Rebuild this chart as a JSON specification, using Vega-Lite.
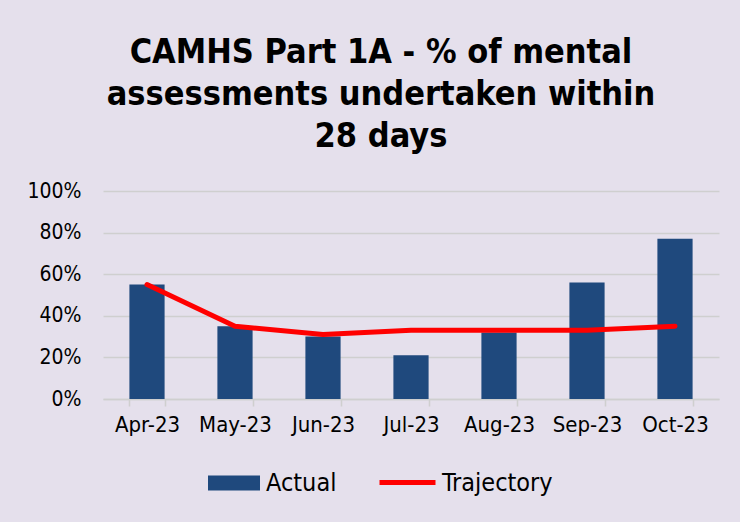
{
  "$schema": "https://vega.github.io/schema/vega-lite/v6.json",
  "width": 616,
  "height": 208,
  "autosize": {"type": "none"},
  "padding": {"left": 103, "top": 191, "right": 21, "bottom": 123},
  "background": "#E5E0EC",
  "title": {
    "text": ["CAMHS Part 1A - % of mental", "assessments undertaken within", "28 days"],
    "font": "DejaVu Sans Condensed, DejaVu Sans",
    "fontSize": 34,
    "fontWeight": "bold",
    "color": "#000000",
    "lineHeight": 42,
    "anchor": "middle",
    "dx": -30,
    "offset": 26
  },
  "data": {
    "values": [
      {"month": "Apr-23", "series": "Actual", "value": 0.55},
      {"month": "May-23", "series": "Actual", "value": 0.35},
      {"month": "Jun-23", "series": "Actual", "value": 0.30},
      {"month": "Jul-23", "series": "Actual", "value": 0.21},
      {"month": "Aug-23", "series": "Actual", "value": 0.32},
      {"month": "Sep-23", "series": "Actual", "value": 0.56},
      {"month": "Oct-23", "series": "Actual", "value": 0.77},
      {"month": "Apr-23", "series": "Trajectory", "value": 0.55},
      {"month": "May-23", "series": "Trajectory", "value": 0.35},
      {"month": "Jun-23", "series": "Trajectory", "value": 0.31},
      {"month": "Jul-23", "series": "Trajectory", "value": 0.33},
      {"month": "Aug-23", "series": "Trajectory", "value": 0.33},
      {"month": "Sep-23", "series": "Trajectory", "value": 0.33},
      {"month": "Oct-23", "series": "Trajectory", "value": 0.35}
    ]
  },
  "encoding": {
    "x": {
      "field": "month",
      "type": "ordinal",
      "sort": null,
      "scale": {"paddingInner": 0.6, "paddingOuter": 0.3},
      "axis": {
        "title": null,
        "labelAngle": 0,
        "labelFont": "DejaVu Sans Condensed, DejaVu Sans",
        "labelFontSize": 22,
        "labelColor": "#000000",
        "labelPadding": 8,
        "domainColor": "#CFCFCF",
        "domainWidth": 1.5,
        "tickColor": "#CFCFCF",
        "tickWidth": 1.5,
        "tickSize": 7,
        "tickBand": "extent"
      }
    },
    "y": {
      "field": "value",
      "type": "quantitative",
      "scale": {"domain": [0, 1]},
      "axis": {
        "title": null,
        "values": [0, 0.2, 0.4, 0.6, 0.8, 1],
        "format": ".0%",
        "grid": true,
        "gridColor": "#CFCFCF",
        "gridWidth": 1.5,
        "domain": false,
        "ticks": false,
        "labelPadding": 22,
        "labelFont": "DejaVu Sans Condensed, DejaVu Sans",
        "labelFontSize": 21,
        "labelColor": "#000000"
      }
    }
  },
  "layer": [
    {
      "transform": [{"filter": "datum.series === 'Actual'"}],
      "mark": {"type": "bar"},
      "encoding": {
        "fill": {
          "field": "series",
          "type": "nominal",
          "scale": {"domain": ["Actual"], "range": ["#1F497D"]},
          "legend": {
            "orient": "none",
            "legendX": 105,
            "legendY": 266,
            "title": null,
            "padding": 0,
            "symbolType": "M-1,-0.29L1,-0.29L1,0.29L-1,0.29Z",
            "symbolSize": 2704,
            "symbolStrokeWidth": 0,
            "labelOffset": 6,
            "labelFont": "DejaVu Sans Condensed, DejaVu Sans",
            "labelFontSize": 25,
            "labelColor": "#000000"
          }
        }
      }
    },
    {
      "transform": [{"filter": "datum.series === 'Trajectory'"}],
      "mark": {"type": "line", "strokeWidth": 5, "strokeCap": "round", "strokeJoin": "round"},
      "encoding": {
        "stroke": {
          "field": "series",
          "type": "nominal",
          "scale": {"domain": ["Trajectory"], "range": ["#FF0000"]},
          "legend": {
            "orient": "none",
            "legendX": 274,
            "legendY": 261,
            "title": null,
            "padding": 0,
            "symbolType": "stroke",
            "symbolSize": 3136,
            "symbolStrokeWidth": 5,
            "labelOffset": 4,
            "labelFont": "DejaVu Sans Condensed, DejaVu Sans",
            "labelFontSize": 25,
            "labelColor": "#000000"
          }
        }
      }
    }
  ],
  "config": {
    "view": {"stroke": null}
  }
}
